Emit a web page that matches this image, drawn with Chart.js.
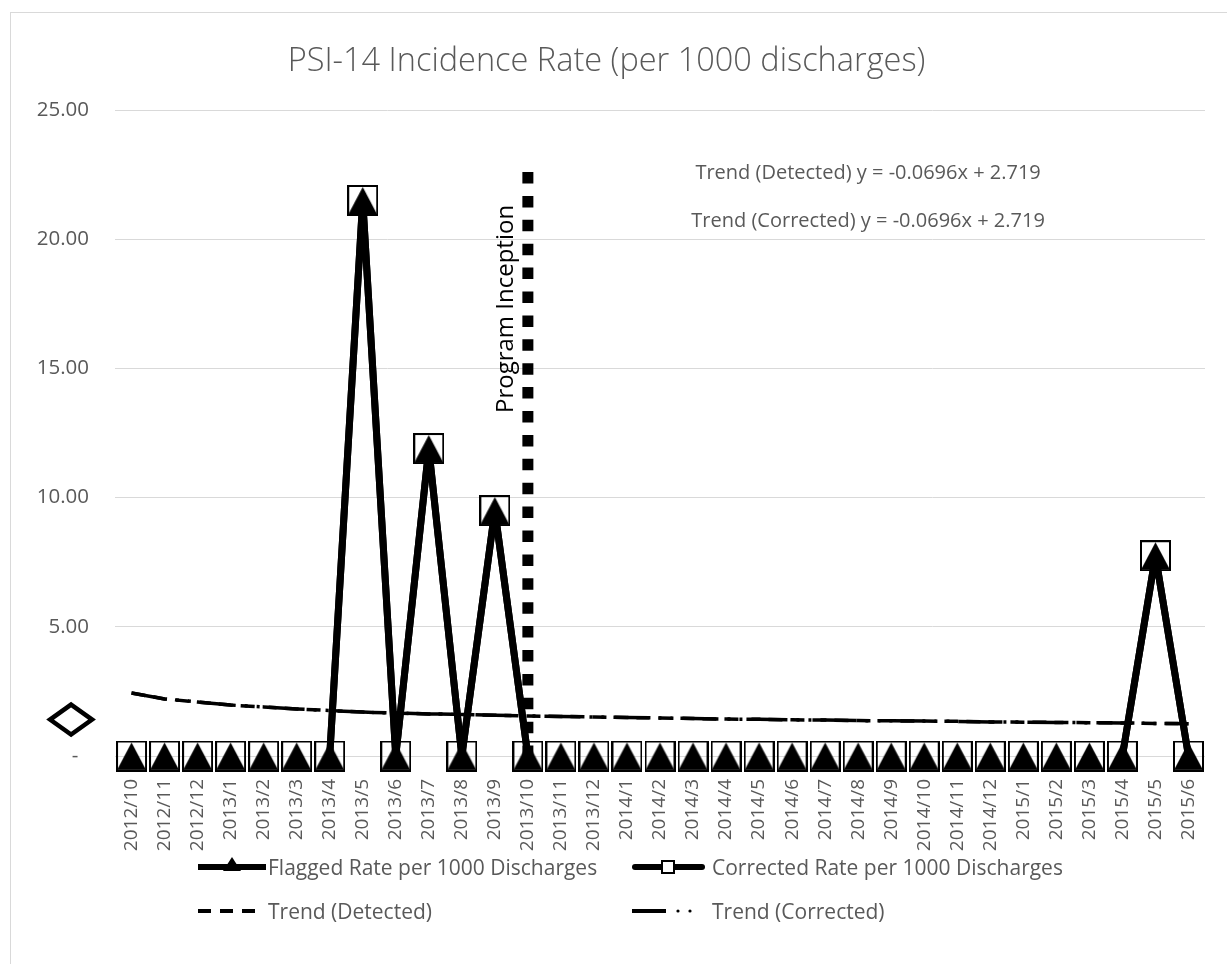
<!DOCTYPE html>
<html><head><meta charset="utf-8">
<script src="https://cdn.jsdelivr.net/npm/chart.js@4/dist/chart.umd.min.js"></script>
<style>
body{margin:0;background:#fff;overflow:hidden;}
#frame{position:absolute;left:10px;top:12px;width:1240px;height:1000px;border:1px solid #d9d9d9;}
#wrap{position:absolute;left:0;top:0;width:1227px;height:964px;}
#legend{position:absolute;left:0;top:0;width:1227px;height:964px;pointer-events:none;font-family:'Open Sans';font-size:21px;color:#595959;}
.item{position:absolute;height:30px;line-height:30px;white-space:nowrap;}
.item span{position:absolute;top:0;}
</style></head>
<body>
<div id="frame"></div>
<div id="wrap"><canvas id="c" width="1227" height="964"></canvas></div>
<div id="legend"></div>
<script>
// ---- data ----
const categories = ['2012/10','2012/11','2012/12','2013/1','2013/2','2013/3','2013/4','2013/5','2013/6','2013/7','2013/8','2013/9','2013/10','2013/11','2013/12','2014/1','2014/2','2014/3','2014/4','2014/5','2014/6','2014/7','2014/8','2014/9','2014/10','2014/11','2014/12','2015/1','2015/2','2015/3','2015/4','2015/5','2015/6'];
const flaggedRate   = [0,0,0,0,0,0,0,21.5,0,11.9,0,9.5,0,0,0,0,0,0,0,0,0,0,0,0,0,0,0,0,0,0,0,7.75,0];
const correctedRate = [0,0,0,0,0,0,0,21.5,0,11.9,0,9.5,0,0,0,0,0,0,0,0,0,0,0,0,0,0,0,0,0,0,0,7.75,0];
const trendDetected  = [2.44,2.21,2.09,1.97,1.90,1.82,1.76,1.70,1.66,1.63,1.61,1.58,1.55,1.53,1.51,1.49,1.47,1.45,1.43,1.42,1.40,1.39,1.37,1.36,1.35,1.34,1.32,1.31,1.30,1.29,1.28,1.26,1.25];
const trendCorrected = [2.44,2.21,2.09,1.97,1.90,1.82,1.76,1.70,1.66,1.63,1.61,1.58,1.55,1.53,1.51,1.49,1.47,1.45,1.43,1.42,1.40,1.39,1.37,1.36,1.35,1.34,1.32,1.31,1.30,1.29,1.28,1.26,1.25];
const inceptionCategory = '2013/10';
const inceptionRange = [22.6, 0];
const outlierPoint = {x: -1.83, y: 1.41};
const yTickValues = [0,5,10,15,20,25];
const titleText = 'PSI-14 Incidence Rate (per 1000 discharges)';
const inceptionLabel = 'Program Inception';
const trendEquations = ['Trend (Detected) y = -0.0696x + 2.719', 'Trend (Corrected) y = -0.0696x + 2.719'];
const seriesNames = ['Flagged Rate per 1000 Discharges','Corrected Rate per 1000 Discharges','Trend (Detected)','Trend (Corrected)'];

// ---- styling helpers ----
const FONT = "'Open Sans'";
const GREY = '#595959';
function makeCanvas(w,h,draw){const c=document.createElement('canvas');c.width=w;c.height=h;draw(c.getContext('2d'));return c;}
const squareImg = makeCanvas(31,31,ctx=>{ctx.strokeStyle='#000';ctx.lineWidth=2;ctx.strokeRect(1,1,29,29);});
const triangleImg = makeCanvas(31,31,ctx=>{ctx.fillStyle='#000';ctx.beginPath();ctx.moveTo(15.5,2);ctx.lineTo(30,29.5);ctx.lineTo(1,29.5);ctx.closePath();ctx.fill();});
const toXY = arr => arr.map((v,i)=>({x:i,y:v}));
const inceptionIdx = categories.indexOf(inceptionCategory);
const hideZeroSegs = ctx => (ctx.p0.parsed.y===0 && ctx.p1.parsed.y===0) ? 'rgba(0,0,0,0)' : undefined;

const overlay = {
  id:'overlay',
  afterDatasetsDraw(chart){
    const {ctx, scales:{x,y}} = chart;
    ctx.save();
    const dx = x.getPixelForValue(outlierPoint.x), dy = y.getPixelForValue(outlierPoint.y);
    ctx.beginPath();
    ctx.moveTo(dx, dy-15); ctx.lineTo(dx+21, dy); ctx.lineTo(dx, dy+15); ctx.lineTo(dx-21, dy); ctx.closePath();
    ctx.fillStyle='#fff'; ctx.fill();
    ctx.lineWidth=4.5; ctx.strokeStyle='#000'; ctx.lineJoin='miter'; ctx.stroke();
    const lx = x.getPixelForValue(inceptionIdx) - 15;
    const ly = y.getPixelForValue(17.3);
    ctx.translate(lx, ly); ctx.rotate(-Math.PI/2);
    ctx.font = "24px " + FONT; ctx.fillStyle='#000'; ctx.textAlign='center'; ctx.textBaseline='alphabetic';
    ctx.fillText(inceptionLabel, 0, 0);
    ctx.restore();
    ctx.save();
    ctx.font = "20px " + FONT; ctx.fillStyle=GREY; ctx.textAlign='center'; ctx.textBaseline='middle';
    const tx = x.getPixelForValue(22.3);
    ctx.fillText(trendEquations[0], tx, y.getPixelForValue(22.56));
    ctx.fillText(trendEquations[1], tx, y.getPixelForValue(20.70));
    ctx.restore();
  }
};

new Chart(document.getElementById('c'), {
  type:'line',
  data:{datasets:[
    {label:seriesNames[0], data:toXY(flaggedRate), borderColor:'#000', backgroundColor:'#000', borderWidth:7, borderJoinStyle:'round', pointStyle:triangleImg, pointRadius:15, order:0, clip:false, segment:{borderColor:hideZeroSegs}},
    {label:seriesNames[1], data:toXY(correctedRate), borderColor:'#000', backgroundColor:'#fff', borderWidth:7, borderJoinStyle:'round', pointStyle:squareImg, pointRadius:15, order:1, clip:false, segment:{borderColor:hideZeroSegs}},
    {label:seriesNames[2], data:toXY(trendDetected), borderColor:'#000', borderWidth:3.5, borderDash:[14,8], pointRadius:0, order:2},
    {label:seriesNames[3], data:toXY(trendCorrected), borderColor:'#000', borderWidth:3.5, borderDash:[36,9,3,9,3,9], pointRadius:0, order:3},
    {label:'Program Inception', data:inceptionRange.map(v=>({x:inceptionIdx,y:v})), borderColor:'#000', borderWidth:11, borderDash:[11.5,12.4], borderCapStyle:'butt', pointRadius:0, order:4, clip:false}
  ]},
  options:{
    responsive:false, animation:false,
    layout:{padding:{left:0,right:14,top:0,bottom:108}},
    elements:{line:{tension:0}},
    plugins:{
      legend:{display:false}, tooltip:{enabled:false},
      title:{display:true, text:titleText, color:GREY, font:{family:FONT, size:32.5, weight:300}, padding:{top:42,bottom:29}}
    },
    scales:{
      x:{type:'linear', min:-0.5, max:categories.length-0.5,
        afterBuildTicks: s => { s.ticks = categories.map((c,i)=>({value:i})); },
        afterFit: s => { s.height = 100; },
        ticks:{autoSkip:false, minRotation:90, maxRotation:90, padding:15, color:GREY, font:{family:FONT,size:19},
          callback: v => categories[Math.round(v)]},
        grid:{display:false}, border:{display:false}},
      y:{min:0, max:25,
        afterBuildTicks: s => { s.ticks = yTickValues.map(v=>({value:v})); },
        afterFit: s => { s.width = 115; },
        ticks:{padding:26, color:GREY, font:{family:FONT,size:20.5}, callback: v => v===0 ? '-  ' : v.toFixed(2)},
        grid:{color:'#d9d9d9', lineWidth:1, drawTicks:false}, border:{display:false}}
    }
  },
  plugins:[overlay]
});

// ---- legend (HTML) ----
const lg = document.getElementById('legend');
const items = [
  {name:seriesNames[0], sx:198, tx:268, cy:867, svg:'<svg width="70" height="30"><line x1="0" y1="15" x2="68" y2="15" stroke="#000" stroke-width="6"/><polygon points="34,5 43,19 25,19" fill="#000"/></svg>'},
  {name:seriesNames[1], sx:632, tx:712, cy:867, svg:'<svg width="74" height="30"><line x1="3" y1="15" x2="70" y2="15" stroke="#000" stroke-width="6" stroke-linecap="round"/><rect x="30" y="9" width="12" height="12" fill="#fff" stroke="#000" stroke-width="2"/></svg>'},
  {name:seriesNames[2], sx:198, tx:268, cy:911, svg:'<svg width="70" height="30"><line x1="0" y1="15" x2="66" y2="15" stroke="#000" stroke-width="4" stroke-dasharray="13 9"/></svg>'},
  {name:seriesNames[3], sx:632, tx:712, cy:911, svg:'<svg width="74" height="30"><line x1="0" y1="15" x2="34" y2="15" stroke="#000" stroke-width="4"/><circle cx="46" cy="15" r="1.6" fill="#000"/><circle cx="58" cy="15" r="1.6" fill="#000"/></svg>'}
];
items.forEach(it=>{
  const d=document.createElement('div'); d.className='item'; d.style.left='0px'; d.style.top=(it.cy-15)+'px';
  d.innerHTML = '<span style="left:'+it.sx+'px;width:80px;height:30px;display:block">'+it.svg+'</span><span style="left:'+it.tx+'px">'+it.name+'</span>';
  lg.appendChild(d);
});
</script>
</body></html>
